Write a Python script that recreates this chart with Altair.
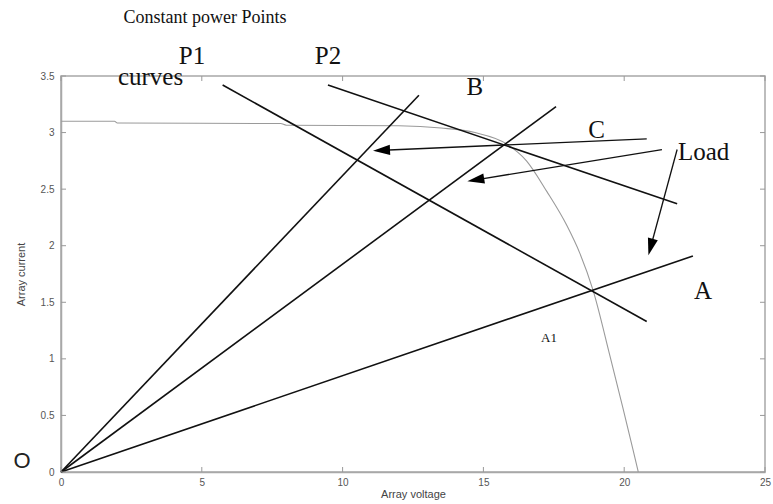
import math
import altair as alt
import pandas as pd

# ---- data ----
iv_v = [0, 1.9, 2.0, 7.8, 8.0, 12.0, 13.5, 14.7, 15.82, 16.53, 17.25, 17.96, 18.43, 18.89, 19.5, 19.96, 20.31, 20.5]
iv_i = [3.10, 3.10, 3.085, 3.08, 3.065, 3.06, 3.04, 3.00, 2.90, 2.75, 2.48, 2.18, 1.93, 1.61, 1.02, 0.56, 0.20, 0.0]

load_end_v = [12.71, 17.58, 22.44]
load_end_i = [3.33, 3.23, 1.91]

power_start_v = [5.74, 9.48]
power_start_i = [3.42, 3.42]
power_end_v = [20.8, 21.88]
power_end_i = [1.33, 2.37]

arrow_start_v = [20.8, 21.34, 21.88]
arrow_start_i = [2.945, 2.85, 2.85]
arrow_tip_v = [11.08, 14.43, 20.86]
arrow_tip_i = [2.84, 2.57, 1.915]

x_ticks = [0, 5, 10, 15, 20, 25]
y_ticks = [0, 0.5, 1, 1.5, 2, 2.5, 3, 3.5]

serif_center_text = ["Constant power Points", "P1", "P2", "B", "C", "A", "A1"]
serif_center_v = [5.11, 4.65, 9.48, 14.70, 19.02, 22.80, 17.33]
serif_center_i = [4.01, 3.68, 3.68, 3.40, 3.02, 1.60, 1.18]
serif_center_size = [18, 25, 25, 25, 25, 25, 13]

serif_left_text = ["curves", "Load"]
serif_left_v = [2.02, 21.91]
serif_left_i = [3.49, 2.83]
serif_left_size = [25, 25]

sans_text = ["O"]
sans_v = [-1.385]
sans_i = [0.10]
sans_size = [22]

# ---- geometry helpers (pixels per unit, for arrowhead orientation) ----
W, H = 704, 396
XMAX, YMAX = 25, 3.5
sx, sy = W / XMAX, H / YMAX

rows = []
for k, (v, i) in enumerate(zip(iv_v, iv_i)):
    rows.append({"V": v, "I": i, "ord": k})
line_rows = []
for n, (v, i) in enumerate(zip(load_end_v, load_end_i)):
    line_rows.append({"V": 0, "I": 0, "grp": f"load{n}", "ord": 0})
    line_rows.append({"V": v, "I": i, "grp": f"load{n}", "ord": 1})
for n in range(len(power_start_v)):
    line_rows.append({"V": power_start_v[n], "I": power_start_i[n], "grp": f"p{n}", "ord": 0})
    line_rows.append({"V": power_end_v[n], "I": power_end_i[n], "grp": f"p{n}", "ord": 1})
arrow_rows = []
head_rows = []
HEAD_LEN = 17
for n in range(len(arrow_start_v)):
    dv = arrow_tip_v[n] - arrow_start_v[n]
    di = arrow_tip_i[n] - arrow_start_i[n]
    dx, dy = dv * sx, -di * sy
    L = math.hypot(dx, dy)
    ux, uy = dx / L, dy / L
    ang = math.degrees(math.atan2(dx, -dy)) % 360
    cx_px = -ux * HEAD_LEN / 2
    cy_px = -uy * HEAD_LEN / 2
    head_rows.append({"V": arrow_tip_v[n] + cx_px / sx, "I": arrow_tip_i[n] - cy_px / sy, "ang": ang})
    arrow_rows.append({"V": arrow_start_v[n], "I": arrow_start_i[n], "grp": f"a{n}", "ord": 0})
    arrow_rows.append({"V": arrow_tip_v[n] + 1.2 * cx_px / sx, "I": arrow_tip_i[n] - 1.2 * cy_px / sy,
                       "grp": f"a{n}", "ord": 1})

iv_df = pd.DataFrame(rows)
lines_df = pd.DataFrame(line_rows)
arrows_df = pd.DataFrame(arrow_rows)
heads_df = pd.DataFrame(head_rows)

xs = alt.Scale(domain=[0, XMAX], nice=False, zero=False)
ys = alt.Scale(domain=[0, YMAX], nice=False, zero=False)

x_axis = alt.Axis(values=x_ticks, ticks=False, grid=False, title="Array voltage", labelPadding=5,
                  titlePadding=1, labelFlush=False)
y_axis = alt.Axis(values=y_ticks, ticks=False, grid=False, title="Array current", format="~g",
                  labelPadding=7, titlePadding=14)


def X(f="V"):
    return alt.X(f"{f}:Q", scale=xs, axis=x_axis)


def Y(f="I"):
    return alt.Y(f"{f}:Q", scale=ys, axis=y_axis)


iv_layer = alt.Chart(iv_df).mark_line(color="#9a9a9a", strokeWidth=1.1, interpolate="monotone").encode(
    x=X(), y=Y(), order="ord:Q",
)
lines_layer = alt.Chart(lines_df).mark_line(color="#111", strokeWidth=1.6).encode(
    x=X(), y=Y(), detail="grp:N", order="ord:Q"
)
arrows_layer = alt.Chart(arrows_df).mark_line(color="#111", strokeWidth=1.3).encode(
    x=X(), y=Y(), detail="grp:N", order="ord:Q"
)
heads_layer = alt.Chart(heads_df).mark_point(
    shape="M0,-1L0.6,1L-0.6,1Z", filled=True, size=HEAD_LEN ** 2, color="#000", opacity=1, strokeWidth=0
).encode(x=X(), y=Y(), angle=alt.Angle("ang:Q", scale=None))

# inward ticks (MATLAB style)
tx = pd.DataFrame({"t": x_ticks, "lo": 0, "hi": YMAX})
ty = pd.DataFrame({"t": y_ticks, "lo": 0, "hi": XMAX})
tick_col = "#999"
tb = alt.Chart(tx).mark_rule(color=tick_col, strokeWidth=1, y2Offset=-5).encode(
    x=X("t"), y=Y("lo"), y2=alt.Y2("lo:Q"))
tt = alt.Chart(tx).mark_rule(color=tick_col, strokeWidth=1, y2Offset=5).encode(
    x=X("t"), y=Y("hi"), y2=alt.Y2("hi:Q"))
tl = alt.Chart(ty).mark_rule(color=tick_col, strokeWidth=1, x2Offset=5).encode(
    y=Y("t"), x=X("lo"), x2=alt.X2("lo:Q"))
tr = alt.Chart(ty).mark_rule(color=tick_col, strokeWidth=1, x2Offset=-5).encode(
    y=Y("t"), x=X("hi"), x2=alt.X2("hi:Q"))

sc_df = pd.DataFrame({"txt": serif_center_text, "V": serif_center_v, "I": serif_center_i, "s": serif_center_size})
sl_df = pd.DataFrame({"txt": serif_left_text, "V": serif_left_v, "I": serif_left_i, "s": serif_left_size})
ss_df = pd.DataFrame({"txt": sans_text, "V": sans_v, "I": sans_i, "s": sans_size})

sc_layer = alt.Chart(sc_df).mark_text(font="Liberation Serif", color="#111", align="center", baseline="middle").encode(
    x=X(), y=Y(), text="txt:N", size=alt.Size("s:Q", scale=None))
sl_layer = alt.Chart(sl_df).mark_text(font="Liberation Serif", color="#111", align="left", baseline="middle").encode(
    x=X(), y=Y(), text="txt:N", size=alt.Size("s:Q", scale=None))
ss_layer = alt.Chart(ss_df).mark_text(font="Liberation Sans", color="#222", align="center", baseline="middle").encode(
    x=X(), y=Y(), text="txt:N", size=alt.Size("s:Q", scale=None))

chart = alt.layer(
    iv_layer, lines_layer, arrows_layer, heads_layer, tb, tt, tl, tr, sc_layer, sl_layer, ss_layer
).properties(
    width=W, height=H,
    padding={"left": 61, "top": 76, "right": 8, "bottom": 32},
    autosize=alt.AutoSizeParams(type="none"),
).configure_view(
    stroke="#a8a8a8", strokeWidth=1.5
).configure_axis(
    domainColor="#a8a8a8", domainWidth=1.5,
    labelFont="Liberation Sans", labelFontSize=10, labelColor="#555",
    titleFont="Liberation Sans", titleFontSize=11, titleFontWeight="normal", titleColor="#444",
)

chart.save("out.html", embed_options={"renderer": "svg", "actions": False})
